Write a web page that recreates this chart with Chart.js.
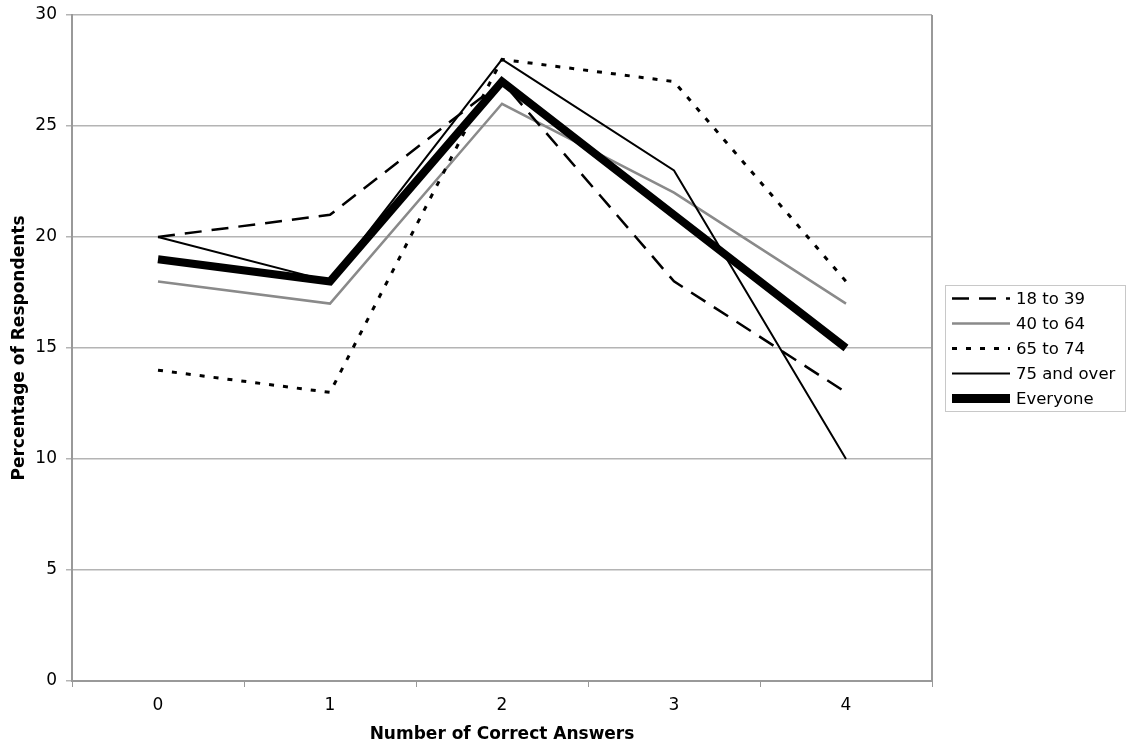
<!DOCTYPE html>
<html>
<head>
<meta charset="utf-8">
<script src="https://cdn.jsdelivr.net/npm/chart.js@4/dist/chart.umd.min.js"></script>
<style>
  body { margin: 0; background: #fff; }
  #wrap { width: 1131px; height: 750px; }
</style>
</head>
<body>
<div id="wrap"><canvas id="chart" width="1131" height="750"></canvas></div>
<script>
// answers scored (x) and share of respondents in each age group (%)
var answers = ["0", "1", "2", "3", "4"];
var age18to39 = [20, 21, 27, 18, 13];
var age40to64 = [18, 17, 26, 22, 17];
var age65to74 = [14, 13, 28, 27, 18];
var age75over = [20, 18, 28, 23, 10];
var everyone = [19, 18, 27, 21, 15];
var yTicks = [0, 5, 10, 15, 20, 25, 30];

var FONT = "'DejaVu Sans', Verdana, sans-serif";

function series(label, values, color, width, dash, order) {
    return {
        label: label,
        data: values,
        borderColor: color,
        backgroundColor: color,
        borderWidth: width,
        borderDash: dash,
        borderCapStyle: "butt",
        pointRadius: 0,
        tension: 0,
        fill: false,
        order: order
    };
}

// boxed legend on the right + closing line on the right side of the plot
var sideLegend = {
    id: "sideLegend",
    afterDraw: function (chart) {
        var ctx = chart.ctx;
        var area = chart.chartArea;
        ctx.save();

        ctx.strokeStyle = "#999";
        ctx.lineWidth = 2;
        ctx.beginPath();
        ctx.moveTo(area.right, area.top);
        ctx.lineTo(area.right, area.bottom);
        ctx.stroke();

        var sets = chart.data.datasets;
        var rowH = 25;
        var boxW = 180, boxH = sets.length * rowH + 1;
        var left = area.right + 13;
        var top = Math.round((area.top + area.bottom) / 2 - boxH / 2) + 0.5;
        ctx.strokeStyle = "#c8c8c8";
        ctx.lineWidth = 1;
        ctx.strokeRect(left + 0.5, top, boxW, boxH);

        ctx.font = "16.5px " + FONT;
        ctx.textBaseline = "middle";
        ctx.fillStyle = "#000";
        sets.forEach(function (ds, i) {
            var y = top + 13 + i * rowH;
            ctx.beginPath();
            ctx.setLineDash(ds.borderDash || []);
            ctx.lineWidth = ds.label === "Everyone" ? 9 : ds.borderWidth;
            ctx.strokeStyle = ds.borderColor;
            ctx.moveTo(left + 7, y);
            ctx.lineTo(left + 65, y);
            ctx.stroke();
            ctx.setLineDash([]);
            ctx.fillText(ds.label, left + 71, y + 1);
        });
        ctx.restore();
    }
};

var ctx = document.getElementById("chart").getContext("2d");
var chart = new Chart(ctx, {
    type: "line",
    data: {
        labels: answers,
        datasets: [
            series("18 to 39", age18to39, "#000", 2.5, [17, 10], 2),
            series("40 to 64", age40to64, "#8a8a8a", 2.5, [], 4),
            series("65 to 74", age65to74, "#000", 3, [5, 9], 3),
            series("75 and over", age75over, "#000", 2, [], 1),
            series("Everyone", everyone, "#000", 8, [], 0)
        ]
    },
    options: {
        responsive: false,
        animation: false,
        layout: { padding: { top: 15, right: 199, bottom: 0, left: 0 } },
        plugins: {
            legend: { display: false },
            tooltip: { enabled: false }
        },
        scales: {
            x: {
                offset: true,
                grid: {
                    display: true,
                    drawOnChartArea: false,
                    offset: true,
                    tickLength: 6,
                    color: "#999"
                },
                border: { color: "#999", width: 2 },
                ticks: {
                    color: "#000",
                    padding: 8,
                    font: { family: FONT, size: 17 }
                },
                title: {
                    display: true,
                    text: "Number of Correct Answers",
                    color: "#000",
                    padding: { top: 0, bottom: 5 },
                    font: { family: FONT, size: 17, weight: "bold" }
                },
                afterFit: function (scale) { scale.height = 69; }
            },
            y: {
                min: 0,
                max: 30,
                afterBuildTicks: function (scale) {
                    scale.ticks = yTicks.map(function (v) { return { value: v }; });
                },
                grid: {
                    color: "#b4b4b4",
                    tickLength: 6,
                    lineWidth: 1.5
                },
                border: { color: "#999", width: 2 },
                ticks: {
                    color: "#000",
                    padding: 9,
                    font: { family: FONT, size: 17 }
                },
                title: {
                    display: true,
                    text: "Percentage of Respondents",
                    color: "#000",
                    padding: { top: 9, bottom: 0 },
                    font: { family: FONT, size: 17, weight: "bold" }
                },
                afterFit: function (scale) {
                    scale.width = 72;
                    scale.paddingTop = 0;
                    scale.paddingBottom = 0;
                }
            }
        }
    },
    plugins: [sideLegend]
});
</script>
</body>
</html>
